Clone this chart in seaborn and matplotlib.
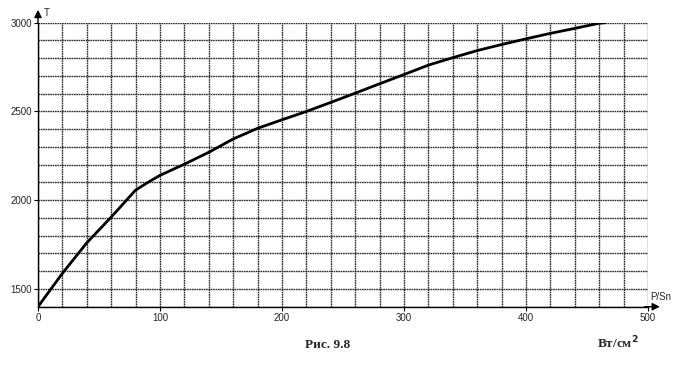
import matplotlib
matplotlib.use("Agg")
import matplotlib.pyplot as plt
import seaborn as sns
import pandas as pd
import numpy as np

# data
p_sn = [0, 20, 40, 60, 80, 90, 100, 120, 140, 160, 180, 200, 220, 240, 260,
        280, 300, 320, 340, 360, 380, 400, 420, 440, 460, 465]
temp = [1400, 1588, 1760, 1905, 2057, 2100, 2140, 2203, 2270, 2345, 2405, 2453,
        2500, 2551, 2603, 2656, 2708, 2761, 2803, 2843, 2877, 2909, 2940, 2968,
        2997, 3000]
x_ticks = [0, 100, 200, 300, 400, 500]
y_ticks = [1500, 2000, 2500, 3000]
x_label = "P/Sn"
y_label = "T"
caption = "Рис. 9.8"
units = "Вт/см$^{\\mathbf{2}}$"

sns.set_style("white")
plt.rcParams['font.family'] = ['Liberation Sans', 'DejaVu Sans']

df = pd.DataFrame({"P/Sn": p_sn, "T": temp})

fig = plt.figure(figsize=(6.8, 3.77), dpi=100)
ax = fig.add_axes([38/680, 1 - 306.7/377, 610/680, (306.7 - 22.7)/377])

sns.lineplot(data=df, x="P/Sn", y="T", ax=ax, color="black", linewidth=2.0,
             zorder=5, sort=False)

ax.set_xlim(0, 500)
ax.set_ylim(1400, 3000)
ax.set_xticks(x_ticks)
ax.set_yticks(y_ticks)
ax.set_xticks(np.arange(0, 501, 20), minor=True)
ax.set_yticks(np.arange(1400, 3001, 100), minor=True)
ax.grid(True, which="both", color="#2a2a2a", linewidth=1.0,
        linestyle=(0, (1.2, 0.5)))
ax.set_axisbelow(True)
ax.tick_params(axis="both", which="major", labelsize=7, length=3, width=0.8,
               color="black", pad=1.5, direction="out")
ax.tick_params(axis="both", which="minor", length=0)
ax.tick_params(bottom=True, left=True)
ax.set_xlabel("")
ax.set_ylabel("")
for s in ["top", "right"]:
    ax.spines[s].set_visible(False)
for s in ["left", "bottom"]:
    ax.spines[s].set_color("black")
    ax.spines[s].set_linewidth(1.0)

# axis arrows
ax.annotate("", xy=(1.024, 0), xycoords="axes fraction",
            xytext=(0.99, 0), textcoords="axes fraction",
            arrowprops=dict(arrowstyle="-|>", color="black", lw=1.0,
                            mutation_scale=11), annotation_clip=False)
ax.annotate("", xy=(0, 1.055), xycoords="axes fraction",
            xytext=(0, 0.99), textcoords="axes fraction",
            arrowprops=dict(arrowstyle="-|>", color="black", lw=1.0,
                            mutation_scale=11), annotation_clip=False)
ax.text(1.003, 0.018, x_label, transform=ax.transAxes, fontsize=7,
        ha="left", va="bottom")
ax.text(0.009, 1.033, y_label, transform=ax.transAxes, fontsize=7,
        ha="left", va="center")

fig.text(328/680, 1 - 345/377, caption, fontsize=9.5, fontweight="bold",
         family=["Liberation Serif", "DejaVu Serif"], ha="center", va="center")
fig.text(618/680, 1 - 343/377, units, fontsize=9.5, fontweight="bold",
         family=["Liberation Serif", "DejaVu Serif"], ha="center", va="center")

fig.savefig("out.png", dpi=100)
